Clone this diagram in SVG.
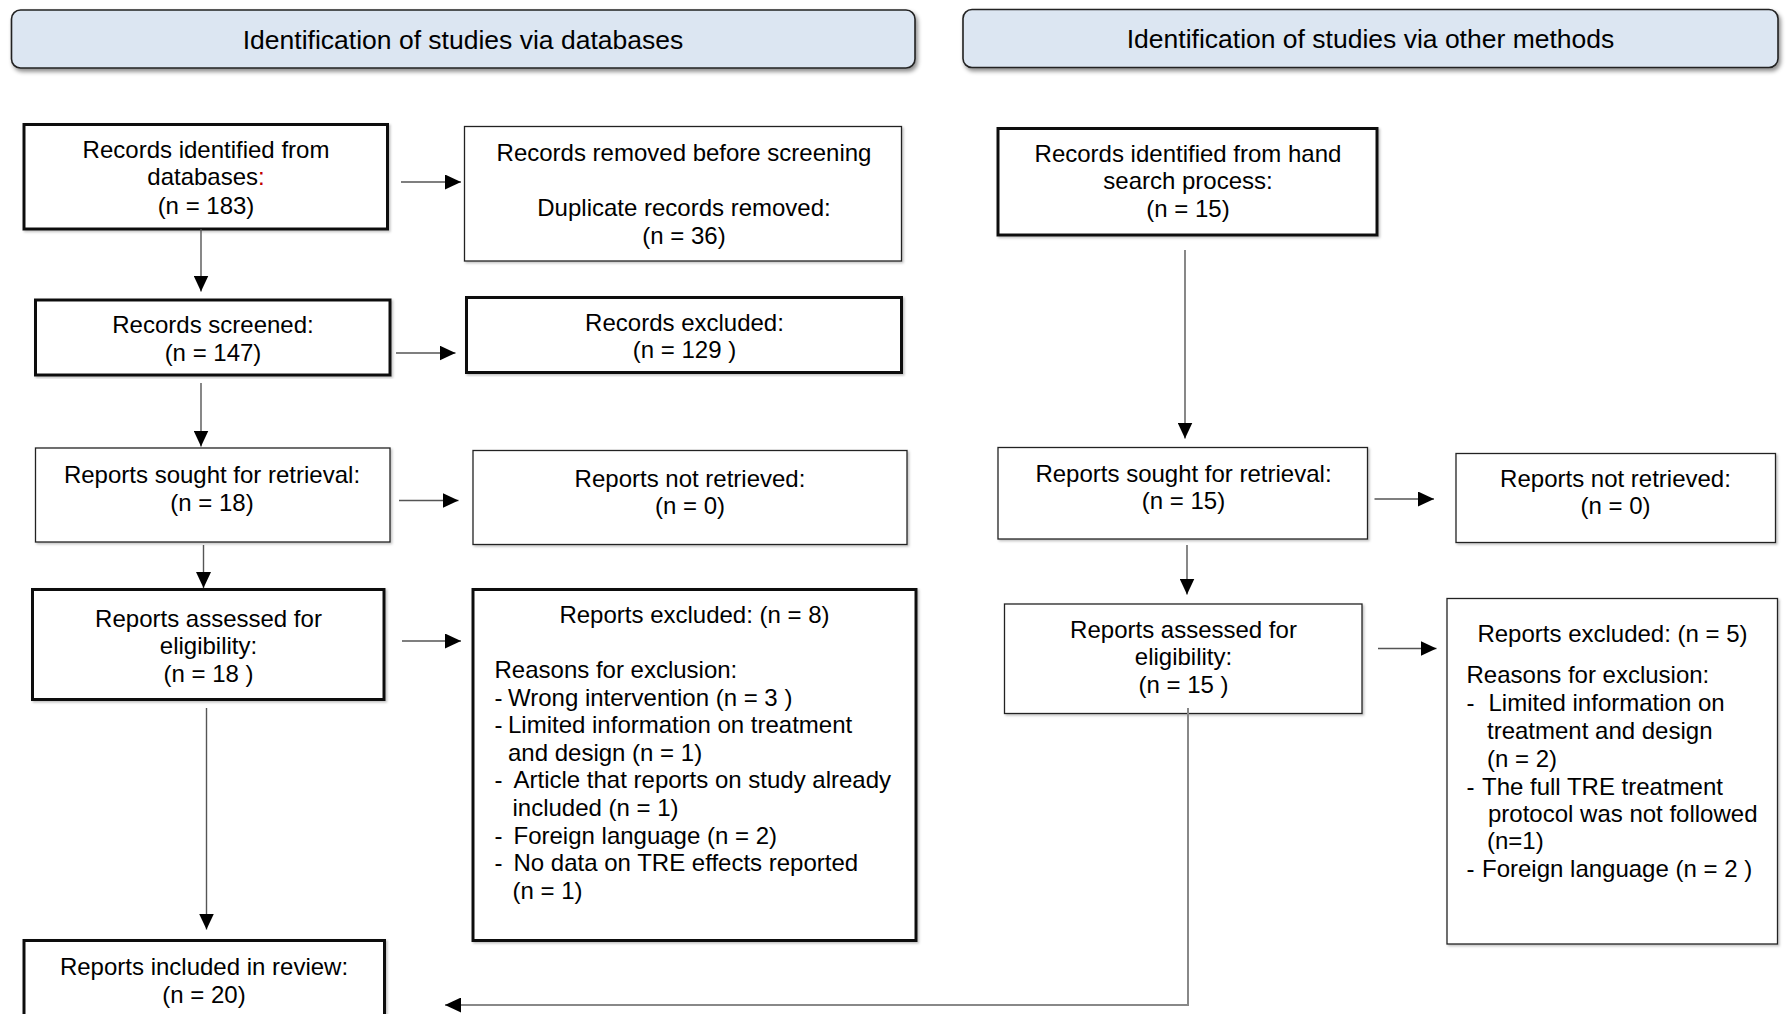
<svg xmlns="http://www.w3.org/2000/svg" width="1787" height="1014" viewBox="0 0 1787 1014">
<style>
text{font-family:"Liberation Sans",Arial,sans-serif;font-size:24px;fill:#000}
.c{text-anchor:middle}
.h{font-size:26.5px}
.hdr{fill:#dce6f2;stroke:#222;stroke-width:1.6}
.thick{fill:#fff;stroke:#111;stroke-width:3}
.thin{fill:#fff;stroke:#222;stroke-width:1.3}
.ln{fill:none;stroke:#555;stroke-width:1.4}
.ln2{fill:none;stroke:#888;stroke-width:2}
</style>
<defs>
<filter id="sh" x="-5%" y="-20%" width="110%" height="150%">
<feDropShadow dx="2" dy="3" stdDeviation="2" flood-color="#000" flood-opacity="0.45"/>
</filter>
<filter id="sh2" x="-5%" y="-5%" width="110%" height="110%">
<feDropShadow dx="1.5" dy="1.5" stdDeviation="1" flood-color="#000" flood-opacity="0.25"/>
</filter>
<marker id="arr" markerUnits="userSpaceOnUse" markerWidth="16" markerHeight="15" refX="16" refY="7.5" orient="auto">
<path d="M0,0 L16,7.5 L0,15 z" fill="#000"/>
</marker>
</defs>
<rect width="1787" height="1014" fill="#fff"/>

<g id="header-databases">
<rect class="hdr" x="11.5" y="10" width="903.5" height="58" rx="9" filter="url(#sh)"/>
<text class="c h" x="463" y="48.5">Identification of studies via databases</text>
</g>
<g id="header-other">
<rect class="hdr" x="963" y="9.5" width="815" height="58" rx="9" filter="url(#sh)"/>
<text class="c h" x="1370.5" y="48">Identification of studies via other methods</text>
</g>

<g id="records-identified">
<rect class="thick" x="24" y="124.5" width="363.5" height="104.5" filter="url(#sh2)"/>
<text class="c" x="206" y="157.5">Records identified from</text>
<text class="c" x="206" y="185.3">databases<tspan fill="#c00000">:</tspan></text>
<text class="c" x="206" y="213.5">(n = 183)</text>
</g>
<g id="records-removed">
<rect class="thin" x="464.5" y="126.5" width="437" height="134.5" filter="url(#sh2)"/>
<text class="c" x="684" y="161">Records removed before screening</text>
<text class="c" x="684" y="216.3">Duplicate records removed:</text>
<text class="c" x="684" y="244">(n = 36)</text>
</g>
<g id="records-screened">
<rect class="thick" x="35.5" y="300" width="354.5" height="75" filter="url(#sh2)"/>
<text class="c" x="213" y="333">Records screened:</text>
<text class="c" x="213" y="361">(n = 147)</text>
</g>
<g id="records-excluded">
<rect class="thick" x="466.5" y="297.5" width="435" height="75" filter="url(#sh2)"/>
<text class="c" x="684.5" y="330.5">Records excluded:</text>
<text class="c" x="684.5" y="358.3">(n = 129 )</text>
</g>
<g id="reports-sought-db">
<rect class="thin" x="35.5" y="448" width="354.5" height="94" filter="url(#sh2)"/>
<text class="c" x="212" y="483">Reports sought for retrieval:</text>
<text class="c" x="212" y="511">(n = 18)</text>
</g>
<g id="reports-not-retrieved-db">
<rect class="thin" x="473" y="450.5" width="434" height="94" filter="url(#sh2)"/>
<text class="c" x="690" y="486.5">Reports not retrieved:</text>
<text class="c" x="690" y="514.3">(n = 0)</text>
</g>
<g id="reports-assessed-db">
<rect class="thick" x="32.5" y="589.5" width="351.5" height="110" filter="url(#sh2)"/>
<text class="c" x="208.5" y="626.5">Reports assessed for</text>
<text class="c" x="208.5" y="654.3">eligibility:</text>
<text class="c" x="208.5" y="682">(n = 18 )</text>
</g>
<g id="reports-excluded-db">
<rect class="thick" x="473" y="589.5" width="443" height="351" filter="url(#sh2)"/>
<text class="c" x="694.5" y="623">Reports excluded: (n = 8)</text>
<text x="494.5" y="678">Reasons for exclusion:</text>
<text x="494.5" y="705.5">-</text><text x="508" y="705.5">Wrong intervention (n = 3 )</text>
<text x="494.5" y="733">-</text><text x="508" y="733">Limited information on treatment</text>
<text x="508" y="760.5">and design (n = 1)</text>
<text x="494.5" y="788.3">-</text><text x="513.5" y="788.3">Article that reports on study already</text>
<text x="512.5" y="816">included (n = 1)</text>
<text x="494.5" y="843.5">-</text><text x="513.5" y="843.5">Foreign language (n = 2)</text>
<text x="494.5" y="871">-</text><text x="513.5" y="871">No data on TRE effects reported</text>
<text x="512.5" y="898.5">(n = 1)</text>
</g>
<g id="reports-included">
<rect class="thick" x="24" y="940.5" width="360.5" height="100" filter="url(#sh2)"/>
<text class="c" x="204" y="974.5">Reports included in review:</text>
<text class="c" x="204" y="1002.5">(n = 20)</text>
</g>

<g id="records-hand-search">
<rect class="thick" x="998" y="128.5" width="379" height="106.5" filter="url(#sh2)"/>
<text class="c" x="1188" y="161.5">Records identified from hand</text>
<text class="c" x="1188" y="189.3">search process:</text>
<text class="c" x="1188" y="217">(n = 15)</text>
</g>
<g id="reports-sought-other">
<rect class="thin" x="998" y="447.5" width="369.5" height="91.5" filter="url(#sh2)"/>
<text class="c" x="1183.5" y="481.5">Reports sought for retrieval:</text>
<text class="c" x="1183.5" y="509.3">(n = 15)</text>
</g>
<g id="reports-not-retrieved-other">
<rect class="thin" x="1456" y="453.5" width="319.5" height="89" filter="url(#sh2)"/>
<text class="c" x="1615.5" y="486.5">Reports not retrieved:</text>
<text class="c" x="1615.5" y="514.3">(n = 0)</text>
</g>
<g id="reports-assessed-other">
<rect class="thin" x="1004.5" y="604" width="357.5" height="109.5" filter="url(#sh2)"/>
<text class="c" x="1183.5" y="637.5">Reports assessed for</text>
<text class="c" x="1183.5" y="665">eligibility:</text>
<text class="c" x="1183.5" y="693">(n = 15 )</text>
</g>
<g id="reports-excluded-other">
<rect class="thin" x="1447" y="598.5" width="330.5" height="345.5" filter="url(#sh2)"/>
<text class="c" x="1612.5" y="642">Reports excluded: (n = 5)</text>
<text x="1466.5" y="683">Reasons for exclusion:</text>
<text x="1466.5" y="711.3">-</text><text x="1488.5" y="711.3">Limited information on</text>
<text x="1487" y="739.3">treatment and design</text>
<text x="1487" y="766.5">(n = 2)</text>
<text x="1466.5" y="794.5">-</text><text x="1482" y="794.5">The full TRE treatment</text>
<text x="1488" y="821.5">protocol was not followed</text>
<text x="1487" y="849">(n=1)</text>
<text x="1466.5" y="876.5">-</text><text x="1482" y="876.5">Foreign language (n = 2 )</text>
</g>

<g id="connectors">
<path class="ln" d="M401,182 H461" marker-end="url(#arr)"/>
<path class="ln" d="M201,229 V291.5" marker-end="url(#arr)"/>
<path class="ln" d="M396,353 H455.5" marker-end="url(#arr)"/>
<path class="ln" d="M201,383 V446.5" marker-end="url(#arr)"/>
<path class="ln" d="M399,500.5 H458.5" marker-end="url(#arr)"/>
<path class="ln" d="M203.5,545 V588" marker-end="url(#arr)"/>
<path class="ln" d="M402,641 H461" marker-end="url(#arr)"/>
<path class="ln" d="M206.5,708 V929.5" marker-end="url(#arr)"/>
<path class="ln" d="M1185,250 V438.5" marker-end="url(#arr)"/>
<path class="ln" d="M1374.5,499 H1434" marker-end="url(#arr)"/>
<path class="ln" d="M1187,545 V594.5" marker-end="url(#arr)"/>
<path class="ln" d="M1378,648.5 H1436.5" marker-end="url(#arr)"/>
<path class="ln2" d="M1188,708 V1005 H445" marker-end="url(#arr)"/>
</g>
</svg>
